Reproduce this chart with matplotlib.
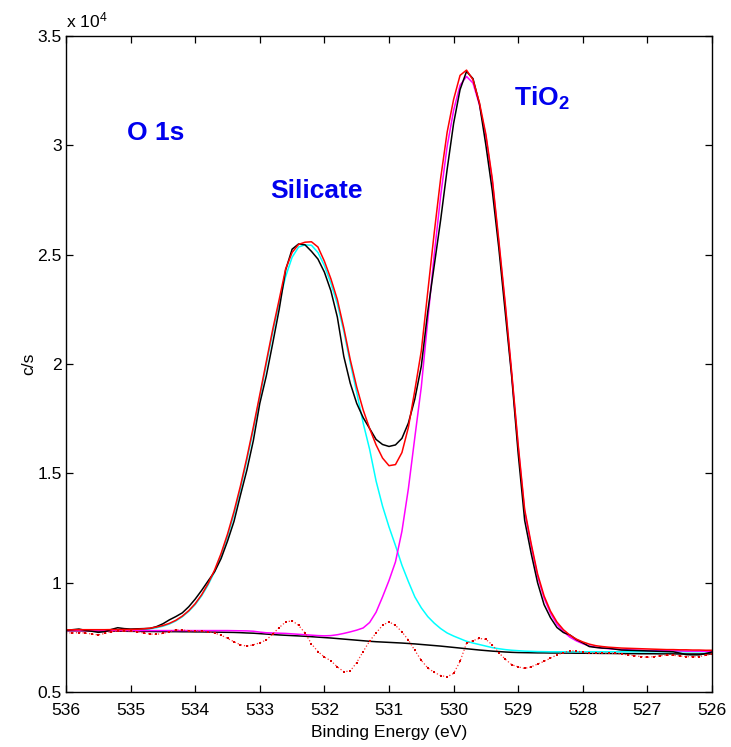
import numpy as np
import matplotlib
matplotlib.use("Agg")
import matplotlib.pyplot as plt
from matplotlib.ticker import FormatStrFormatter

plt.rcParams['font.family'] = ['Liberation Sans', 'DejaVu Sans']
plt.rcParams['mathtext.default'] = 'regular'

# O 1s region, 536 -> 526 eV in 0.1 eV steps
energy = np.round(np.arange(536.0, 525.95, -0.1), 1)

# measured spectrum (c/s)
raw = [
    7820, 7850, 7880, 7820, 7780, 7730, 7760, 7860, 7940, 7900,
    7880, 7890, 7900, 7910, 7990, 8120, 8300, 8450, 8620, 8900,
    9250, 9650, 10080, 10500, 11100, 11900, 12800, 14000, 15150, 16500,
    18200, 19450, 20950, 22500, 24300, 25250, 25490, 25450, 25150, 24800,
    24200, 23350, 22150, 20350, 19120, 18200, 17550, 17050, 16550, 16320,
    16230, 16300, 16600, 17300, 18400, 19900, 22400, 24500, 26600, 28900,
    31000, 32550, 33380, 33050, 31900, 30000, 27900, 25300, 22350, 19400,
    15900, 12850, 11350, 10000, 9000, 8400, 7950, 7720, 7610, 7400,
    7250, 7080, 7040, 7010, 7000, 6960, 6920, 6910, 6900, 6890,
    6880, 6870, 6860, 6850, 6840, 6780, 6710, 6700, 6700, 6760,
    6830,
]

# fit envelope
envelope = [
    7840, 7845, 7850, 7850, 7850, 7850, 7850, 7855, 7855, 7860,
    7860, 7870, 7890, 7920, 7970, 8040, 8140, 8280, 8470, 8720,
    9040, 9450, 9960, 10580, 11330, 12220, 13250, 14420, 15720, 17120,
    18600, 20100, 21580, 22950, 24350, 25100, 25470, 25570, 25590, 25350,
    24700, 23900, 22950, 21650, 20200, 18950, 17900, 17050, 16300, 15700,
    15350, 15400, 15950, 17100, 18800, 20600, 23300, 26000, 28500, 30600,
    32100, 33200, 33440, 33000, 31950, 30500, 28450, 25650, 22750, 19600,
    16300, 13350, 11800, 10400, 9400, 8700, 8200, 7850, 7600, 7420,
    7290, 7190, 7120, 7080, 7050, 7030, 7010, 7000, 6990, 6980,
    6970, 6960, 6950, 6940, 6940, 6930, 6930, 6920, 6920, 6910,
    6910,
]

# silicate component (on background)
silicate = [
    7830, 7830, 7830, 7830, 7830, 7830, 7830, 7832, 7835, 7837,
    7840, 7845, 7860, 7890, 7940, 8010, 8110, 8250, 8440, 8690,
    9000, 9400, 9900, 10500, 11250, 12120, 13130, 14300, 15600, 17000,
    18480, 19980, 21450, 22820, 24000, 24880, 25350, 25450, 25430, 25100,
    24500, 23700, 22750, 21500, 20050, 18700, 17300, 16100, 14650, 13500,
    12550, 11700, 10800, 10050, 9350, 8850, 8450, 8150, 7900, 7700,
    7560, 7440, 7320, 7240, 7170, 7100, 7030, 6980, 6940, 6910,
    6890, 6870, 6860, 6850, 6845, 6840, 6840, 6840, 6840, 6840,
    6840, 6840, 6840, 6840, 6840, 6840, 6840, 6840, 6840, 6840,
    6840, 6840, 6840, 6840, 6840, 6840, 6840, 6840, 6840, 6840,
    6840,
]

# TiO2 component (on background)
tio2 = [
    7810, 7810, 7810, 7810, 7810, 7810, 7810, 7810, 7810, 7810,
    7810, 7810, 7810, 7810, 7810, 7810, 7810, 7810, 7810, 7810,
    7810, 7810, 7810, 7810, 7810, 7810, 7805, 7800, 7795, 7780,
    7740, 7710, 7700, 7690, 7680, 7660, 7640, 7620, 7600, 7580,
    7570, 7580, 7620, 7680, 7750, 7830, 7930, 8180, 8650, 9350,
    10100, 10950, 12350, 14300, 16650, 18950, 22000, 25000, 27700, 29950,
    31600, 32750, 33150, 32850, 31850, 30400, 28350, 25550, 22650, 19500,
    16200, 13250, 11700, 10300, 9300, 8600, 8100, 7760, 7510, 7340,
    7210, 7110, 7050, 7010, 6980, 6960, 6940, 6930, 6920, 6910,
    6900, 6900, 6890, 6890, 6880, 6880, 6870, 6870, 6870, 6860,
    6860,
]

# Shirley-type background
background = [
    7800, 7800, 7800, 7795, 7790, 7790, 7785, 7785, 7780, 7780,
    7775, 7775, 7770, 7770, 7765, 7765, 7760, 7760, 7755, 7755,
    7750, 7750, 7745, 7740, 7735, 7730, 7725, 7715, 7700, 7690,
    7670, 7650, 7630, 7610, 7595, 7580, 7565, 7550, 7530, 7510,
    7490, 7470, 7445, 7420, 7395, 7370, 7345, 7320, 7300, 7285,
    7270, 7255, 7240, 7220, 7200, 7175, 7150, 7125, 7100, 7070,
    7040, 7010, 6980, 6950, 6920, 6895, 6870, 6850, 6830, 6815,
    6805, 6800, 6795, 6790, 6790, 6785, 6785, 6780, 6780, 6775,
    6775, 6770, 6770, 6765, 6765, 6760, 6760, 6755, 6755, 6750,
    6750, 6750, 6745, 6745, 6745, 6740, 6740, 6740, 6740, 6740,
    6740,
]

# fit residual, offset onto the background level
residual = [
    7710, 7700, 7720, 7700, 7650, 7610, 7680, 7760, 7780, 7790,
    7790, 7760, 7700, 7650, 7640, 7680, 7760, 7840, 7830, 7810,
    7800, 7790, 7760, 7700, 7600, 7450, 7300, 7160, 7100, 7160,
    7250, 7380, 7650, 7950, 8200, 8260, 8050, 7700, 7200, 6850,
    6600, 6430, 6150, 5930, 5960, 6350, 6850, 7330, 7700, 8050,
    8210, 8050, 7750, 7380, 6900, 6450, 6100, 5900, 5750, 5700,
    5850, 6400, 7230, 7350, 7450, 7410, 7150, 6800, 6500, 6250,
    6150, 6080, 6150, 6280, 6400, 6550, 6700, 6800, 6880, 6880,
    6820, 6770, 6770, 6780, 6770, 6770, 6740, 6700, 6660, 6620,
    6590, 6620, 6660, 6690, 6680, 6650, 6620, 6610, 6620, 6680,
    6740,
]

scale = 1e4
fs = 12.6

fig = plt.figure(figsize=(7.31, 7.47), dpi=100)
ax = fig.add_axes([0.0903, 0.0736, 0.8837, 0.8782])

lw = 1.1
ax.plot(energy, np.array(background) / scale, color='black', lw=lw)
ax.plot(energy, np.array(silicate) / scale, color='#00ffff', lw=lw)
ax.plot(energy, np.array(tio2) / scale, color='#ff00ff', lw=lw)
ax.plot(energy, np.array(raw) / scale, color='black', lw=lw)
ax.plot(energy, np.array(envelope) / scale, color='red', lw=lw)
ax.plot(energy, np.array(residual) / scale, color='#ff3030', lw=0.9, ls=':',
        marker='s', markersize=1.6, markeredgewidth=0, markerfacecolor='#dd0000')

ax.set_xlim(536, 526)
ax.set_ylim(0.5, 3.5)
ax.set_xticks(np.arange(536, 525, -1))
ax.set_yticks([0.5, 1, 1.5, 2, 2.5, 3, 3.5])
ax.yaxis.set_major_formatter(FormatStrFormatter('%g'))
ax.tick_params(direction='in', top=True, right=True, length=5, width=0.9,
               labelsize=fs)
ax.tick_params(axis='x', pad=8)
ax.tick_params(axis='y', pad=3)
for sp in ax.spines.values():
    sp.set_linewidth(1.0)

ax.set_xlabel('Binding Energy (eV)', fontsize=fs, labelpad=5)
ax.set_ylabel('c/s', fontsize=fs, labelpad=1)
ax.text(0.0, 1.008, 'x 10$^{4}$', transform=ax.transAxes, fontsize=fs,
        ha='left', va='bottom')

blue = '#0000ee'
ax.text(535.06, 3.056, 'O 1s', color=blue, fontsize=19, fontweight='bold',
        va='center')
ax.text(532.84, 2.791, 'Silicate', color=blue, fontsize=19, fontweight='bold',
        va='center')
ax.text(529.07, 3.216, 'TiO$_2$', color=blue, fontsize=19, fontweight='bold',
        va='center')

fig.savefig('out.png', dpi=100)
